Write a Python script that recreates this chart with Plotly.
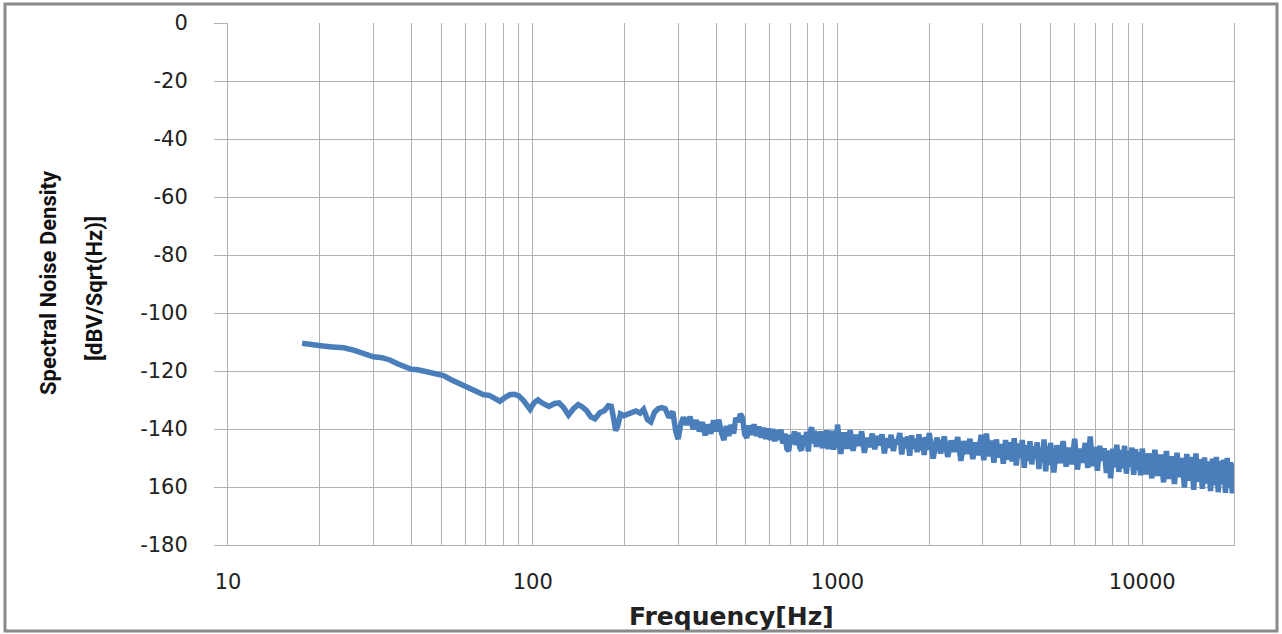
import plotly.graph_objects as go

# ---------------- data ----------------
freq_low = [17.5, 18.5, 19.5, 20.5, 22, 24, 26, 28, 30, 32, 34, 36, 38, 40, 42, 45, 48, 51, 54, 57,
            60, 63, 66, 69, 72, 75, 78, 81, 84, 87, 90, 93, 96, 98, 101, 104, 108, 113, 118, 122,
            126, 131, 136, 141, 145, 150, 155, 160, 166, 172, 177, 181, 184, 187, 190, 194, 199,
            205, 211, 218, 225, 231, 238, 244, 251, 258, 265]
snd_low = [-110.4, -110.9, -111.2, -111.4, -111.7, -112.0, -112.9, -114.2, -115.1, -115.4, -116.2,
           -117.5, -118.6, -119.4, -119.6, -120.2, -120.6, -121.6, -123.0, -124.2, -125.3, -126.5,
           -127.6, -128.2, -128.4, -129.3, -130.4, -129.2, -128.2, -128.0, -128.6, -130.0, -131.8,
           -133.2, -131.0, -130.0, -131.2, -132.2, -131.2, -131.0, -132.5, -135.2, -133.0, -131.6,
           -132.3, -133.6, -135.8, -136.5, -134.4, -133.6, -132.0, -132.2, -136.0, -140.5, -139.0,
           -134.8, -135.4, -135.0, -134.2, -133.8, -134.5, -133.2, -136.8, -137.6, -134.2, -133.0,
           -132.6]

freq_mid = [272, 280, 288, 295, 300, 305, 312, 320, 328, 336, 344, 352, 360, 368, 376, 384, 392, 400,
            408, 416, 424, 432, 440, 448, 456, 464, 472, 480, 488, 496, 504, 512, 522, 532, 542, 552,
            562, 572, 582, 592, 602, 612, 622, 632, 642, 652, 662, 672, 682, 692, 702, 712, 722, 732,
            742, 752, 762, 772, 782, 792, 802, 812, 822, 832, 842, 852, 862, 872, 882, 892, 902, 912,
            922, 932, 942, 952, 962, 972, 982, 992]
snd_mid = [-133.0, -136.0, -134.0, -141.0, -143.5, -139.0, -136.0, -138.5, -135.8, -140.0, -137.0,
           -140.8, -137.6, -142.2, -138.4, -141.6, -137.0, -140.8, -136.8, -141.4, -143.8, -139.0,
           -142.4, -138.6, -141.6, -136.2, -137.6, -134.8, -136.2, -141.8, -143.0, -138.8, -142.0,
           -138.4, -142.4, -139.2, -143.0, -139.6, -143.4, -139.8, -143.8, -140.0, -144.2, -140.4,
           -143.8, -140.2, -145.0, -141.6, -146.8, -147.6, -142.0, -145.2, -140.8, -145.6, -141.2,
           -146.4, -147.4, -142.2, -145.8, -141.0, -147.8, -141.4, -139.4, -145.0, -140.6, -146.2,
           -141.2, -145.8, -140.8, -146.6, -141.6, -145.2, -140.4, -147.0, -141.8, -146.0, -140.6,
           -147.2, -141.4, -146.4]

freq_high = [1000, 1025, 1050, 1075, 1100, 1125, 1150, 1175, 1200, 1225, 1250, 1275, 1300, 1325, 1350,
             1375, 1400, 1425, 1450, 1475, 1500, 1525, 1550, 1575, 1600, 1625, 1650, 1675, 1700, 1725,
             1750, 1775, 1800, 1825, 1850, 1875, 1900, 1925, 1950, 1975,
             2000, 2060, 2120, 2180, 2240, 2300, 2360, 2420, 2480, 2540, 2600, 2660, 2720, 2780, 2840,
             2900, 2960, 3020, 3080, 3140, 3200, 3260, 3320, 3380, 3440, 3500, 3560, 3620, 3680, 3740,
             3800, 3860, 3920, 3980, 4040, 4100, 4160, 4220, 4280, 4340, 4400, 4460, 4520, 4580, 4640,
             4700, 4760, 4820, 4880, 4940,
             5000, 5125, 5250, 5375, 5500, 5625, 5750, 5875, 6000, 6125, 6250, 6375, 6500, 6625, 6750,
             6875, 7000, 7125, 7250, 7375, 7500, 7625, 7750, 7875, 8000, 8125, 8250, 8375, 8500, 8625,
             8750, 8875, 9000, 9125, 9250, 9375, 9500, 9625, 9750, 9875,
             10000, 10250, 10500, 10750, 11000, 11250, 11500, 11750, 12000, 12250, 12500, 12750, 13000,
             13250, 13500, 13750, 14000, 14250, 14500, 14750, 15000, 15250, 15500, 15750, 16000, 16250,
             16500, 16750, 17000, 17250, 17500, 17750, 18000, 18250, 18500, 18750, 19000, 19250, 19500,
             19750, 20000]
snd_high = [-138.5, -148.6, -141.2, -146.8, -140.4, -147.5, -142.0, -145.8, -140.8, -148.2, -143.0,
            -146.2, -141.6, -147.0, -142.4, -145.6, -141.8, -148.4, -143.2, -146.4, -142.0, -147.6,
            -143.6, -145.2, -141.4, -148.8, -143.0, -146.6, -142.6, -149.2, -142.2, -146.8, -143.4,
            -148.0, -141.8, -147.4, -143.0, -149.0, -142.8, -147.2,
            -141.4, -150.2, -143.0, -148.4, -142.6, -149.6, -144.0, -147.8, -142.8, -151.0, -144.2,
            -148.6, -143.4, -150.4, -144.6, -149.0, -142.0, -150.8, -141.6, -149.4, -144.0, -151.6,
            -143.6, -149.8, -145.2, -152.0, -143.8, -150.6, -144.6, -151.2, -143.2, -152.6, -145.0,
            -150.0, -143.8, -153.4, -145.6, -151.0, -144.2, -152.2, -146.0, -150.4, -144.6, -153.8,
            -146.4, -151.4, -143.6, -154.6, -146.0, -152.4,
            -144.8, -155.0, -145.6, -151.8, -144.2, -153.0, -146.4, -152.2, -143.4, -154.0, -146.8,
            -151.6, -144.8, -153.4, -142.6, -152.8, -146.2, -154.4, -145.8, -151.0, -146.6, -155.2,
            -147.4, -157.0, -146.8, -153.2, -145.4, -154.8, -147.2, -153.6, -145.8, -155.4, -147.6,
            -153.0, -146.4, -155.8, -147.0, -154.2, -148.0, -156.0,
            -146.8, -155.6, -148.4, -157.0, -147.2, -156.2, -148.8, -158.4, -147.6, -157.2, -149.4,
            -159.0, -148.2, -156.6, -150.0, -160.2, -148.6, -157.8, -149.6, -161.0, -148.4, -158.2,
            -150.4, -160.6, -149.8, -158.8, -151.2, -161.4, -150.2, -159.4, -149.6, -161.8, -151.0,
            -159.0, -150.6, -162.0, -150.0, -160.4, -151.4, -162.2, -152.0]

frequency = freq_low + freq_mid + freq_high
noise_density = snd_low + snd_mid + snd_high

x_grid_vals = [10, 20, 30, 40, 50, 60, 70, 80, 90,
               100, 200, 300, 400, 500, 600, 700, 800, 900,
               1000, 2000, 3000, 4000, 5000, 6000, 7000, 8000, 9000,
               10000, 20000]
x_label_vals = [10, 100, 1000, 10000]
y_tick_vals = [0, -20, -40, -60, -80, -100, -120, -140, -160, -180]
y_tick_text = ["0", "-20", "-40", "-60", "-80", "-100", "-120", "-140", "160", "-180"]

# ---------------- layout constants ----------------
W, H = 1282, 634
L, R, T, B = 228, 48, 23, 89
PW, PH = W - L - R, H - T - B


def px(xp):
    return (xp - L) / PW


def py(yp):
    return (H - B - yp) / PH


GRID = "#b2b2b2"
LINE_BLUE = "#4a7ebb"
TICK_FONT = dict(family="DejaVu Sans", size=21, color="#222222")

fig = go.Figure()
fig.add_trace(go.Scatter(
    x=frequency, y=noise_density, mode="lines",
    line=dict(color=LINE_BLUE, width=5.5),
    hoverinfo="x+y", showlegend=False,
))

fig.update_layout(
    width=W, height=H,
    margin=dict(l=L, r=R, t=T, b=B, pad=0),
    paper_bgcolor="white", plot_bgcolor="white",
    font=dict(family="DejaVu Sans", size=18, color="#222222"),
    xaxis=dict(
        type="log", range=[1, 4.30103],
        tickmode="array", tickvals=x_grid_vals,
        ticktext=[str(v) if v in x_label_vals else "" for v in x_grid_vals],
        showgrid=True, gridcolor=GRID, gridwidth=1,
        ticks="", showline=True, linecolor=GRID, linewidth=1, mirror=False,
        zeroline=False,
        tickfont=TICK_FONT,
        ticklabelstandoff=18,
    ),
    yaxis=dict(
        range=[-180, 0], tickmode="array", tickvals=y_tick_vals, ticktext=y_tick_text,
        showgrid=True, gridcolor=GRID, gridwidth=1,
        ticks="outside", ticklen=13, tickcolor=GRID, tickwidth=1,
        showline=True, linecolor=GRID, linewidth=1, mirror=True,
        zeroline=False,
        tickfont=TICK_FONT,
        ticklabelstandoff=22,
    ),
    annotations=[
        dict(text="Spectral Noise Density", x=px(48), y=py(283), xref="paper", yref="paper",
             textangle=-90, showarrow=False, xanchor="center", yanchor="middle",
             font=dict(family="Roboto", size=22, color="#111111", weight="bold")),
        dict(text="[dBV/Sqrt(Hz)]", x=px(94), y=py(289), xref="paper", yref="paper",
             textangle=-90, showarrow=False, xanchor="center", yanchor="middle",
             font=dict(family="Roboto", size=22, color="#111111", weight="bold")),
        dict(text="Frequency[Hz]", x=0.5, y=py(616), xref="paper", yref="paper",
             showarrow=False, xanchor="center", yanchor="middle",
             font=dict(family="DejaVu Sans", size=25, color="#222222", weight="bold")),
    ],
    shapes=[
        dict(type="rect", xref="paper", yref="paper",
             x0=px(5), x1=px(1277), y0=py(631), y1=py(4),
             line=dict(color="#8a8a8a", width=3), fillcolor="rgba(0,0,0,0)", layer="below"),
    ],
)

fig.write_html("out.html")
